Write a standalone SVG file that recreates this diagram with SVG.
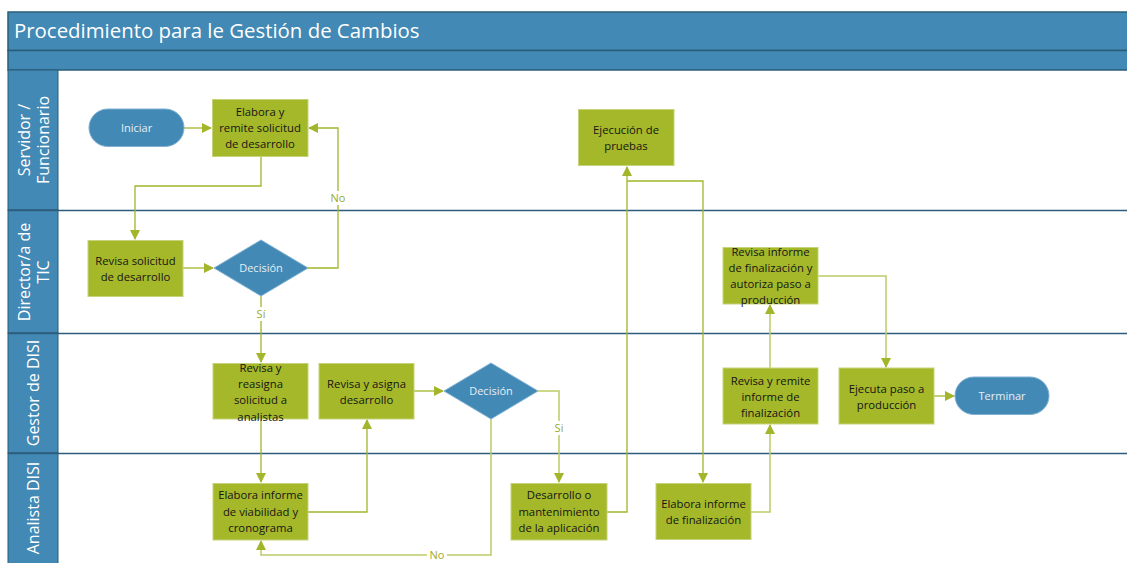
<svg xmlns="http://www.w3.org/2000/svg" width="1127" height="563" viewBox="0 0 1127 563">
<style>
.bar{fill:#4289B5;stroke:#2B5D7A;stroke-width:1.5}
.lane{fill:#4289B5;stroke:#2B5D7A;stroke-width:1}
.div{stroke:#2F5E7C;stroke-width:1.5}
.box{fill:#A5B82A;stroke:#C6D37A;stroke-width:1}
.btxt{font-family:"Open Sans","Noto Sans",sans-serif;font-size:11.3px;fill:#151515;text-anchor:middle}
.blue{fill:#4289B5;stroke:#7FB0D2;stroke-width:1}
.wtxt{font-family:"Open Sans","Noto Sans",sans-serif;font-size:11px;fill:#E6EEF5;text-anchor:middle}
.ltxt{font-family:"Open Sans","Noto Sans",sans-serif;font-size:16px;fill:#FFFFFF;text-anchor:middle}
.conn{fill:none;stroke:#A3B52B;stroke-width:1.3}
.conn2{fill:none;stroke:#BCCB66;stroke-width:1.5}
.lbl{font-family:"Open Sans","Noto Sans",sans-serif;font-size:11px;fill:#9AAA2A;text-anchor:middle}
</style>
<defs>
<marker id="arr" markerWidth="10" markerHeight="10" refX="9" refY="5" orient="auto" markerUnits="userSpaceOnUse">
<path d="M0,0 L10,5 L0,10 z" fill="#A3B52B"/>
</marker>
</defs>
<rect width="1127" height="563" fill="#FFFFFF"/>
<g id="frame">
<rect class="bar" x="8" y="12" width="1125" height="38.5"/>
<rect class="bar" x="8" y="50.5" width="1125" height="19.5"/>
<rect class="lane" x="8" y="70" width="50" height="140"/>
<rect class="lane" x="8" y="210" width="50" height="123"/>
<rect class="lane" x="8" y="333" width="50" height="120"/>
<rect class="lane" x="8" y="453" width="50" height="115"/>
<line class="div" x1="8" y1="210.5" x2="1127" y2="210.5"/>
<line class="div" x1="8" y1="333.5" x2="1127" y2="333.5"/>
<line class="div" x1="8" y1="453.5" x2="1127" y2="453.5" stroke="#4E7287" stroke-width="2"/>
<text x="14" y="38" font-family="'Open Sans','Noto Sans',sans-serif" font-size="20.4" fill="#FFFFFF">Procedimiento para le Gestión de Cambios</text>
<text class="ltxt" transform="translate(33,140) rotate(-90)"><tspan x="0" y="-3">Servidor /</tspan><tspan x="0" y="16">Funcionario</tspan></text>
<text class="ltxt" transform="translate(33,272) rotate(-90)"><tspan x="0" y="-3">Director/a de</tspan><tspan x="0" y="16">TIC</tspan></text>
<text class="ltxt" transform="translate(33,393) rotate(-90)"><tspan x="0" y="6">Gestor de DISI</tspan></text>
<text class="ltxt" transform="translate(33,508) rotate(-90)"><tspan x="0" y="6">Analista DISI</tspan></text>
</g>
<g id="connectors">
<path class="conn" d="M184,128 H211" marker-end="url(#arr)"/>
<path class="conn" d="M261,157 V186 H135 V239" marker-end="url(#arr)"/>
<path class="conn" d="M183,268 H213" marker-end="url(#arr)"/>
<path class="conn" d="M308,268 H338 V128 H309" marker-end="url(#arr)"/>
<path class="conn" d="M261,296 V362" marker-end="url(#arr)"/>
<path class="conn" d="M261,419 V482" marker-end="url(#arr)"/>
<path class="conn" d="M308,512 H367 V420" marker-end="url(#arr)"/>
<path class="conn" d="M414,391 H443" marker-end="url(#arr)"/>
<path class="conn2" d="M538,391 H559 V482" marker-end="url(#arr)"/>
<path class="conn2" d="M491,419 V555 H261 V541" marker-end="url(#arr)"/>
<path class="conn" d="M607,512 H627 V167" marker-end="url(#arr)"/>
<path class="conn" d="M627,181 H703 V482" marker-end="url(#arr)"/>
<path class="conn2" d="M751,512 H770 V425" marker-end="url(#arr)"/>
<path class="conn2" d="M770,368 V305" marker-end="url(#arr)"/>
<path class="conn2" d="M818,276 H886 V367" marker-end="url(#arr)"/>
<path class="conn" d="M934,396 H954" marker-end="url(#arr)"/>
<rect x="328" y="191" width="20" height="14" fill="#FFFFFF"/>
<text class="lbl" x="338" y="202">No</text>
<rect x="252" y="307" width="18" height="14" fill="#FFFFFF"/>
<text class="lbl" x="261" y="318">Sí</text>
<rect x="550" y="421" width="18" height="14" fill="#FFFFFF"/>
<text class="lbl" x="559" y="432">Si</text>
<rect x="427" y="549" width="20" height="13" fill="#FFFFFF"/>
<text class="lbl" x="437" y="559">No</text>
</g>
<g id="iniciar">
<rect class="blue" x="89" y="109" width="95" height="37.5" rx="18.75"/>
<text class="wtxt" x="136.5" y="132">Iniciar</text>
</g>
<g id="elabora-solicitud">
<rect class="box" x="212.5" y="99.5" width="95.5" height="57"/>
<text class="btxt"><tspan x="260" y="116">Elabora y</tspan><tspan x="260" y="132">remite solicitud</tspan><tspan x="260" y="148">de desarrollo</tspan></text>
</g>
<g id="ejecucion-pruebas">
<rect class="box" x="578.5" y="109.5" width="95.5" height="56"/>
<text class="btxt"><tspan x="626" y="134">Ejecución de</tspan><tspan x="626" y="150">pruebas</tspan></text>
</g>
<g id="revisa-solicitud">
<rect class="box" x="88" y="240.5" width="95" height="56"/>
<text class="btxt"><tspan x="135.5" y="265">Revisa solicitud</tspan><tspan x="135.5" y="281">de desarrollo</tspan></text>
</g>
<g id="decision1">
<path class="blue" d="M261,240 L308,268 L261,296 L214,268 Z"/>
<text class="wtxt" x="261" y="272">Decisión</text>
</g>
<g id="revisa-informe-autoriza">
<rect class="box" x="723" y="247.5" width="95" height="56.5"/>
<text class="btxt"><tspan x="770.5" y="256">Revisa informe</tspan><tspan x="770.5" y="272">de finalización y</tspan><tspan x="770.5" y="288">autoriza paso a</tspan><tspan x="770.5" y="304">producción</tspan></text>
</g>
<g id="revisa-reasigna">
<rect class="box" x="213" y="363.5" width="95" height="55.5"/>
<text class="btxt"><tspan x="260.5" y="372">Revisa y</tspan><tspan x="260.5" y="388">reasigna</tspan><tspan x="260.5" y="404">solicitud a</tspan><tspan x="260.5" y="421">analistas</tspan></text>
</g>
<g id="revisa-asigna">
<rect class="box" x="319" y="363.5" width="95" height="55.5"/>
<text class="btxt"><tspan x="366.5" y="388">Revisa y asigna</tspan><tspan x="366.5" y="404">desarrollo</tspan></text>
</g>
<g id="decision2">
<path class="blue" d="M491,363 L538,391 L491,419 L444,391 Z"/>
<text class="wtxt" x="491" y="395">Decisión</text>
</g>
<g id="revisa-remite">
<rect class="box" x="723" y="368" width="95" height="56"/>
<text class="btxt"><tspan x="770.5" y="385">Revisa y remite</tspan><tspan x="770.5" y="401">informe de</tspan><tspan x="770.5" y="417">finalización</tspan></text>
</g>
<g id="ejecuta-paso">
<rect class="box" x="839" y="368" width="95" height="56"/>
<text class="btxt"><tspan x="886.5" y="393">Ejecuta paso a</tspan><tspan x="886.5" y="409">producción</tspan></text>
</g>
<g id="terminar">
<rect class="blue" x="955" y="377" width="94" height="37.5" rx="18.75"/>
<text class="wtxt" x="1002" y="400">Terminar</text>
</g>
<g id="elabora-viabilidad">
<rect class="box" x="213" y="483.5" width="95" height="56.5"/>
<text class="btxt"><tspan x="260.5" y="499">Elabora informe</tspan><tspan x="260.5" y="516">de viabilidad y</tspan><tspan x="260.5" y="532">cronograma</tspan></text>
</g>
<g id="desarrollo">
<rect class="box" x="511" y="483.5" width="96" height="56.5"/>
<text class="btxt"><tspan x="559" y="499">Desarrollo o</tspan><tspan x="559" y="516">mantenimiento</tspan><tspan x="559" y="532">de la aplicación</tspan></text>
</g>
<g id="elabora-finalizacion">
<rect class="box" x="656" y="483.5" width="95" height="56"/>
<text class="btxt"><tspan x="703.5" y="508">Elabora informe</tspan><tspan x="703.5" y="524">de finalización</tspan></text>
</g>
</svg>
